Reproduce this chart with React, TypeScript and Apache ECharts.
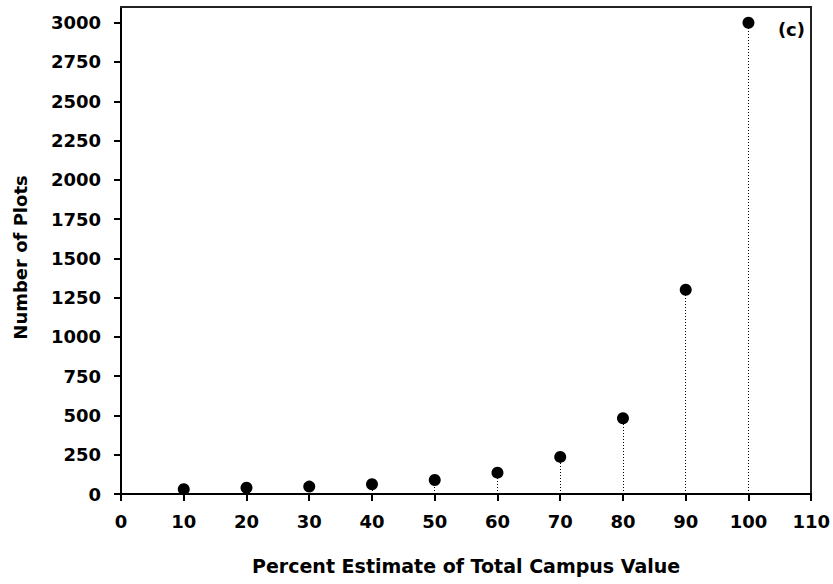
import React, { useEffect, useRef } from "react";
import * as echarts from "echarts";

const percents = [10, 20, 30, 40, 50, 60, 70, 80, 90, 100];
const plotCounts = [30, 40, 47, 62, 89, 136, 236, 482, 1300, 3000];
const yTicks = [0, 250, 500, 750, 1000, 1250, 1500, 1750, 2000, 2250, 2500, 2750, 3000];
const xTitle = "Percent Estimate of Total Campus Value";
const yTitle = "Number of Plots";
const panelLabel = "(c)";

const FONT = "DejaVu Sans";

export default function App() {
  const ref = useRef<HTMLDivElement>(null);
  useEffect(() => {
    if (!ref.current) return;
    const chart = echarts.init(ref.current, undefined, { renderer: "svg" });
    const points = percents.map((p, i) => [p, plotCounts[i]]);
    const frame = { show: true, onZero: false, lineStyle: { color: "#222", width: 2 } };
    chart.setOption({
      animation: false,
      backgroundColor: "#fff",
      grid: { left: 121, right: 19, top: 7, bottom: 90 },
      xAxis: [
        {
          type: "value",
          min: 0,
          max: 110,
          interval: 10,
          splitLine: { show: false },
          axisLine: { show: true, onZero: false, lineStyle: { color: "#000", width: 2 } },
          axisTick: { show: true, length: 7, lineStyle: { color: "#000", width: 2 } },
          axisLabel: {
            color: "#000",
            fontFamily: FONT,
            fontWeight: "bold",
            fontSize: 18,
            margin: 18,
            formatter: (v: number) => String(v),
          },
          name: xTitle,
          nameLocation: "middle",
          nameGap: 62,
          nameTextStyle: { color: "#000", fontFamily: FONT, fontWeight: "bold", fontSize: 19 },
          z: 5,
        },
        {
          type: "value",
          position: "top",
          min: 0,
          max: 110,
          interval: 10,
          show: true,
          splitLine: { show: false },
          axisLine: frame,
          axisTick: { show: false },
          axisLabel: { show: false },
          z: 5,
        },
      ],
      yAxis: [
        {
          type: "value",
          min: 0,
          max: 3100,
          interval: 250,
          splitLine: { show: false },
          axisLine: { show: true, onZero: false, lineStyle: { color: "#000", width: 2 } },
          axisTick: {
            show: true,
            length: 7,
            customValues: yTicks,
            lineStyle: { color: "#000", width: 2 },
          },
          axisLabel: {
            color: "#000",
            fontFamily: FONT,
            fontWeight: "bold",
            fontSize: 18,
            margin: 20,
            customValues: yTicks,
            formatter: (v: number) => String(v),
          },
          name: yTitle,
          nameLocation: "middle",
          nameGap: 92,
          nameRotate: 90,
          nameTextStyle: {
            color: "#000",
            fontFamily: FONT,
            fontWeight: "bold",
            fontSize: 18,
            padding: [0, 14, 0, 0],
          },
          z: 5,
        },
        {
          type: "value",
          position: "right",
          min: 0,
          max: 3100,
          interval: 250,
          show: true,
          splitLine: { show: false },
          axisLine: frame,
          axisTick: { show: false },
          axisLabel: { show: false },
          z: 5,
        },
      ],
      series: [
        {
          type: "scatter",
          xAxisIndex: 0,
          yAxisIndex: 0,
          data: points,
          symbol: "circle",
          symbolSize: 12,
          itemStyle: { color: "#000", opacity: 1 },
          z: 3,
          markLine: {
            silent: true,
            symbol: ["none", "none"],
            label: { show: false },
            lineStyle: { color: "#000", width: 1, type: [1, 2], opacity: 1 },
            data: points.map((pt) => [{ coord: [pt[0], 0] }, { coord: [pt[0], pt[1]] }]),
          },
        },
      ],
      graphic: [
        {
          type: "text",
          right: 28,
          top: 20,
          style: { text: panelLabel, fill: "#000", font: `bold 18px "${FONT}"` },
        },
      ],
    });
    return () => chart.dispose();
  }, []);
  return (
    <div
      ref={ref}
      style={{ position: "absolute", left: 0, top: 0, width: 833, height: 584 }}
    />
  );
}
